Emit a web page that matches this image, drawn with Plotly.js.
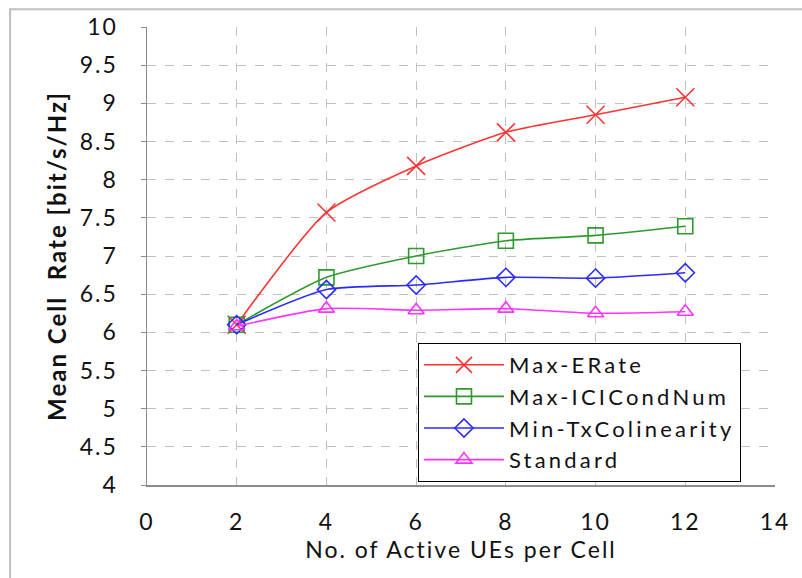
<!DOCTYPE html>
<html>
<head>
<meta charset="utf-8">
<script src="https://cdn.plot.ly/plotly-3.0.1.min.js"></script>
<style>
html,body{margin:0;padding:0;background:#fff;}
#chart{width:802px;height:578px;}
svg text{letter-spacing:2px;}
svg text.legendtext{letter-spacing:3.2px;}
</style>
</head>
<body>
<div id="chart"></div>
<script>
const activeUEs = [2, 4, 6, 8, 10, 12];
const maxERate = [6.10, 7.57, 8.18, 8.62, 8.85, 9.08];
const maxICICondNum = [6.10, 6.72, 7.00, 7.20, 7.27, 7.39];
const minTxColinearity = [6.10, 6.56, 6.62, 6.72, 6.71, 6.78];
const standard = [6.08, 6.31, 6.29, 6.31, 6.25, 6.27];
const seriesNames = ["Max-ERate", "Max-ICICondNum", "Min-TxColinearity", "Standard"];
const xTitle = "No. of Active UEs per Cell";
const yTitle = "Mean Cell  Rate [bit/s/Hz]";

const FONT = "Lato, 'Open Sans', sans-serif";

function tr(y, name, color, symbol, size) {
  return {
    x: activeUEs, y: y, name: name, type: "scatter", mode: "lines+markers",
    line: {color: color, width: 1.6, shape: "spline", smoothing: 0.6},
    marker: {symbol: symbol, size: size, color: color, line: {color: color, width: 1.6}}
  };
}

const data = [
  tr(maxERate, seriesNames[0], "#ff3333", "x-thin-open", 18),
  tr(maxICICondNum, seriesNames[1], "#2e9a2e", "square-open", 15),
  tr(minTxColinearity, seriesNames[2], "#2b2bff", "diamond-open", 14),
  tr(standard, seriesNames[3], "#ff33ff", "triangle-up-open", 14)
];

const layout = {
  width: 802, height: 578,
  margin: {l: 147, r: 27, t: 27, b: 93},
  paper_bgcolor: "#fff", plot_bgcolor: "#fff",
  font: {family: FONT, size: 22, color: "#111"},
  showlegend: true,
  legend: {
    x: 0.4315, y: 0.31, xanchor: "left", yanchor: "top",
    bgcolor: "#fff", bordercolor: "#000", borderwidth: 1,
    font: {family: FONT, size: 22, color: "#111"},
    tracegroupgap: 0, itemwidth: 80
  },
  xaxis: {
    range: [0, 14], dtick: 2, tick0: 0,
    showgrid: true, gridcolor: "#c0c0c0", griddash: "dash", gridwidth: 1,
    zeroline: false, showline: true, linecolor: "#8c8c8c", linewidth: 1.5,
    ticks: "", ticklabelstandoff: 16, tickfont: {size: 23, family: FONT},
    title: {text: xTitle, font: {size: 23, family: FONT}, standoff: 0}
  },
  yaxis: {
    range: [4, 10], dtick: 0.5, tick0: 4,
    showgrid: true, gridcolor: "#c0c0c0", griddash: "dash", gridwidth: 1,
    zeroline: false, showline: true, linecolor: "#8c8c8c", linewidth: 1.5,
    ticks: "outside", ticklen: 5, tickcolor: "#8c8c8c", ticklabelstandoff: 18,
    tickfont: {size: 23, family: FONT},
    title: {text: "<b>" + yTitle + "</b>", font: {size: 24, family: FONT}, standoff: 6}
  },
  shapes: [{
    type: "rect", xref: "paper", yref: "paper",
    x0: -0.218, x1: 1.2, y0: -0.4, y1: 1.039,
    line: {color: "#bfbfbf", width: 2}, fillcolor: "rgba(0,0,0,0)", layer: "below"
  }]
};

Plotly.newPlot("chart", data, layout, {displayModeBar: false, staticPlot: true});
</script>
</body>
</html>
